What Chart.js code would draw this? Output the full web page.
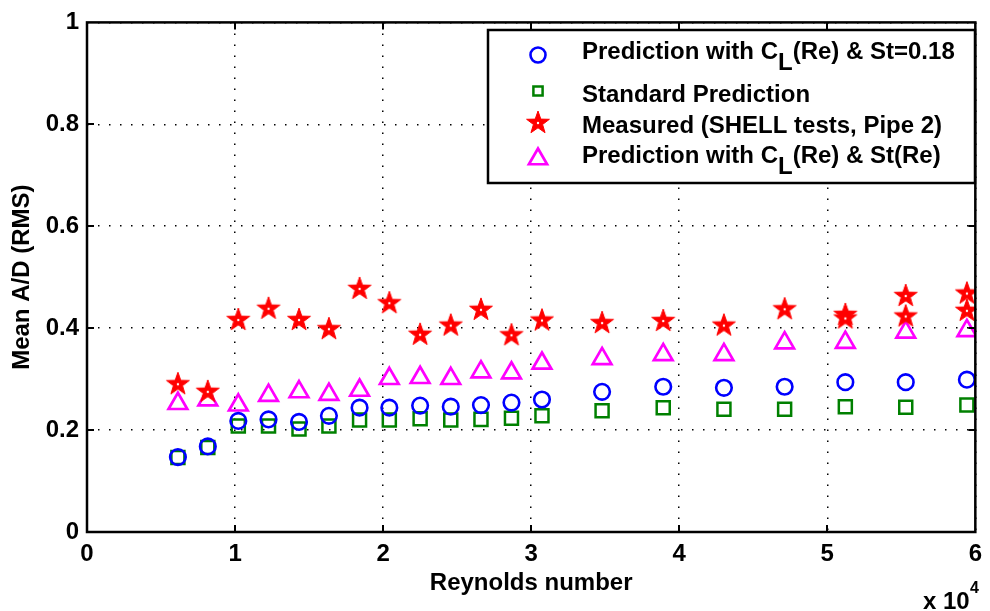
<!DOCTYPE html>
<html>
<head>
<meta charset="utf-8">
<script src="https://cdn.jsdelivr.net/npm/chart.js@4/dist/chart.umd.min.js"></script>
<style>
  html, body { margin: 0; padding: 0; background: #fff; }
  #wrap { width: 990px; height: 611px; }
</style>
</head>
<body>
<div id="wrap"><canvas id="c" width="990" height="611"></canvas></div>
<script>
// Reynolds numbers of the test cases
const reynolds = [6140, 8160, 10220, 12260, 14320, 16340, 18410, 20420, 22500, 24570,
                  26610, 28670, 30730, 34790, 38920, 43020, 47120, 51220, 55300, 59430];

// Mean A/D (RMS) per case
const predClSt018 = [0.147, 0.168, 0.218, 0.221, 0.216, 0.228, 0.244, 0.244, 0.248, 0.246,
                     0.249, 0.254, 0.260, 0.275, 0.285, 0.283, 0.285, 0.294, 0.294, 0.299];
const predStandard = [0.146, 0.166, 0.208, 0.208, 0.202, 0.208, 0.220, 0.220, 0.222, 0.220,
                      0.221, 0.223, 0.228, 0.238, 0.244, 0.241, 0.241, 0.246, 0.245, 0.249];
const predClStRe = [0.252, 0.259, 0.249, 0.268, 0.275, 0.270, 0.278, 0.301, 0.303, 0.301,
                    0.314, 0.312, 0.331, 0.340, 0.348, 0.348, 0.371, 0.372, 0.392, 0.395];

// Measurements (repeat runs at the three highest Reynolds numbers)
const measuredRe = [6140, 8160, 10220, 12260, 14320, 16340, 18410, 20420, 22500, 24570,
                    26610, 28670, 30730, 34790, 38920, 43020, 47120, 51220, 55300, 59430,
                    51220, 55300, 59430];
const measuredAD = [0.290, 0.275, 0.416, 0.438, 0.416, 0.398, 0.477, 0.449, 0.387, 0.405,
                    0.436, 0.386, 0.415, 0.410, 0.414, 0.405, 0.437, 0.426, 0.463, 0.468,
                    0.419, 0.423, 0.434];

const seriesLabels = [
  'Prediction with C_L(Re) & St=0.18',
  'Standard Prediction',
  'Measured (SHELL tests, Pipe 2)',
  'Prediction with C_L(Re) & St(Re)'
];

const xScaleExponent = 4;
const yTicks = [0, 0.2, 0.4, 0.6, 0.8, 1];

const FONT_FAMILY = '"Liberation Sans", Arial, Helvetica, sans-serif';
const axisFont = { family: FONT_FAMILY, size: 24, weight: 'bold' };

function pts(xs, ys) { return xs.map((x, i) => ({ x: x, y: ys[i] })); }

// filled five-pointed star marker
function makeStar(R, color) {
  const size = Math.ceil(R * 2 + 4) + (Math.ceil(R * 2 + 4) % 2);
  const cv = document.createElement('canvas');
  cv.width = cv.height = size;
  const g = cv.getContext('2d');
  const c = size / 2;
  g.beginPath();
  for (let i = 0; i < 10; i++) {
    const r = i % 2 ? R * 0.40 : R;
    const a = -Math.PI / 2 + i * Math.PI / 5;
    g.lineTo(c + r * Math.cos(a), c + r * Math.sin(a));
  }
  g.closePath();
  g.fillStyle = color; g.fill();
  g.strokeStyle = color; g.lineWidth = 1; g.stroke();
  g.fillStyle = '#fff';
  g.beginPath(); g.arc(c, c, 1.2, 0, Math.PI * 2); g.fill();
  return cv;
}
const starImg = makeStar(12, '#ff0000');

const datasets = [
  { label: seriesLabels[0], data: pts(reynolds, predClSt018), pointStyle: 'circle',
    pointRadius: 7.8, pointBorderWidth: 2.6, borderColor: '#0000ff', backgroundColor: 'rgba(0,0,0,0)',
    pointBorderColor: '#0000ff', pointBackgroundColor: 'rgba(0,0,0,0)', legendRadius: 7.5 },
  { label: seriesLabels[1], data: pts(reynolds, predStandard), pointStyle: 'rect',
    pointRadius: 9.2, pointBorderWidth: 2.5, borderColor: '#008000', backgroundColor: 'rgba(0,0,0,0)',
    pointBorderColor: '#008000', pointBackgroundColor: 'rgba(0,0,0,0)', legendRadius: 6.5 },
  { label: seriesLabels[2], data: pts(measuredRe, measuredAD), pointStyle: starImg,
    pointRadius: 12, pointBorderWidth: 0, borderColor: '#ff0000', backgroundColor: '#ff0000',
    pointBorderColor: '#ff0000', pointBackgroundColor: '#ff0000', legendRadius: 12 },
  { label: seriesLabels[3], data: pts(reynolds, predClStRe), pointStyle: 'triangle',
    pointRadius: 10.8, pointBorderWidth: 2.7, borderColor: '#ff00ff', backgroundColor: 'rgba(0,0,0,0)',
    pointBorderColor: '#ff00ff', pointBackgroundColor: 'rgba(0,0,0,0)', legendRadius: 10.5 }
];

// draws text, turning "_X" into a lowered subscript character
function drawRichText(ctx, text, x, y, subDrop) {
  const parts = text.split(/_(.)/);
  let cx = x;
  parts.forEach((p, i) => {
    if (!p) return;
    const dy = i % 2 === 1 ? subDrop : 0;
    ctx.fillText(p, cx, y + dy);
    cx += ctx.measureText(p).width;
  });
}

// axis box with inward ticks, legend box and the x-axis exponent
const framePlugin = {
  id: 'frame',
  afterDatasetsDraw(chart) {
    const { ctx, chartArea: a, scales: { x, y } } = chart;
    const tl = 7;
    ctx.save();
    ctx.strokeStyle = '#000';
    ctx.lineWidth = 2;
    ctx.beginPath();
    x.ticks.forEach(t => {
      if (t.value <= x.min || t.value >= x.max) return;
      const px = Math.round(x.getPixelForValue(t.value));
      ctx.moveTo(px, a.bottom); ctx.lineTo(px, a.bottom - tl);
      ctx.moveTo(px, a.top); ctx.lineTo(px, a.top + tl);
    });
    y.ticks.forEach(t => {
      if (t.value <= y.min || t.value >= y.max) return;
      const py = Math.round(y.getPixelForValue(t.value));
      ctx.moveTo(a.left, py); ctx.lineTo(a.left + tl, py);
      ctx.moveTo(a.right, py); ctx.lineTo(a.right - tl, py);
    });
    ctx.stroke();
    ctx.lineWidth = 2.5;
    ctx.strokeRect(a.left, a.top, a.right - a.left, a.bottom - a.top);
    ctx.restore();
  },
  afterDraw(chart, args, opts) {
    const { ctx } = chart;
    ctx.save();
    // legend
    const L = opts.legend;
    ctx.fillStyle = '#fff';
    ctx.fillRect(L.left, L.top, L.right - L.left, L.bottom - L.top);
    ctx.strokeStyle = '#000';
    ctx.lineWidth = 2.5;
    ctx.strokeRect(L.left, L.top, L.right - L.left, L.bottom - L.top);
    ctx.font = 'bold 24px ' + FONT_FAMILY;
    ctx.textBaseline = 'alphabetic';
    ctx.textAlign = 'left';
    chart.data.datasets.forEach((ds, i) => {
      ctx.save();
      ctx.strokeStyle = ds.pointBorderColor;
      ctx.fillStyle = ds.pointBackgroundColor;
      ctx.lineWidth = ds.pointBorderWidth;
      Chart.helpers.drawPoint(ctx, {
        pointStyle: ds.pointStyle, rotation: 0,
        radius: ds.legendRadius, borderWidth: ds.pointBorderWidth
      }, L.markerX, L.markerY[i]);
      ctx.restore();
      ctx.fillStyle = '#000';
      drawRichText(ctx, ds.label, L.textX, L.textY[i], 11);
    });
    // x-axis multiplier
    ctx.fillStyle = '#000';
    ctx.font = 'bold 24px ' + FONT_FAMILY;
    ctx.fillText('x 10', 923, 609);
    ctx.font = 'bold 16px ' + FONT_FAMILY;
    ctx.fillText(String(xScaleExponent), 970, 593);
    ctx.restore();
  }
};

new Chart(document.getElementById('c'), {
  type: 'scatter',
  data: { datasets: datasets },
  plugins: [framePlugin],
  options: {
    responsive: false,
    animation: false,
    events: [],
    devicePixelRatio: 1,
    layout: { padding: { top: 18, right: 11, left: 0, bottom: 0 } },
    plugins: {
      legend: { display: false },
      tooltip: { enabled: false },
      frame: {
        legend: {
          left: 488, right: 975, top: 30, bottom: 183,
          markerX: 538, markerY: [55, 91, 123, 159],
          textX: 582, textY: [59, 102, 133, 163]
        }
      }
    },
    scales: {
      x: {
        type: 'linear', min: 0, max: 60000,
        afterFit(s) { s.height = 79; },
        ticks: {
          stepSize: 10000, maxRotation: 0, autoSkip: false, padding: 8,
          color: '#000', font: axisFont,
          callback: v => String(Math.round(v / Math.pow(10, xScaleExponent)))
        },
        grid: { color: '#000', lineWidth: 1.5, drawTicks: false, borderDash: [1.5, 9.5] },
        border: { display: false, dash: [1.5, 9.5] },
        title: { display: true, text: 'Reynolds number', color: '#000', font: axisFont,
                 padding: { top: 0, bottom: 13 } }
      },
      y: {
        type: 'linear', min: 0, max: 1,
        afterFit(s) { s.width = 87; },
        afterBuildTicks(s) { s.ticks = yTicks.map(v => ({ value: v })); },
        ticks: {
          padding: 8, color: '#000', font: axisFont,
          callback: v => String(+v.toFixed(1))
        },
        grid: { color: '#000', lineWidth: 1.5, drawTicks: false, borderDash: [1.5, 9.5] },
        border: { display: false, dash: [1.5, 9.5] },
        title: { display: true, text: 'Mean A/D (RMS)', color: '#000', font: axisFont,
                 padding: { top: 8, bottom: 0 } }
      }
    }
  }
});
</script>
</body>
</html>
